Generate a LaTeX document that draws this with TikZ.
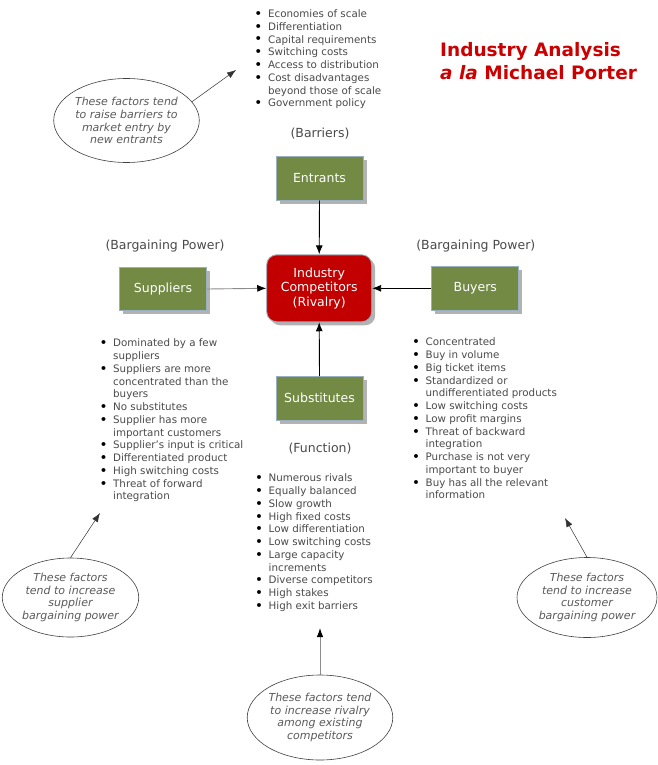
\documentclass[tikz,border=0pt]{standalone}
\usepackage{fontspec}
\setmainfont{DejaVu Sans}
\usetikzlibrary{shapes.geometric,arrows.meta,shadows}
\definecolor{boxgreen}{HTML}{738A45}
\definecolor{boxedge}{HTML}{9AAFC0}
\definecolor{rivred}{HTML}{C20000}
\definecolor{titlered}{HTML}{CC0000}
\definecolor{txtgray}{HTML}{4A4A4A}
\definecolor{notegray}{HTML}{5A5A5A}
\newcommand{\bul}{\makebox[6.1pt][c]{\raisebox{-0.9pt}{\fontsize{13.5}{12}\selectfont\textcolor{black}{\textbullet}}}}
\newcommand{\factlist}[1]{\fontsize{10.3}{12.75}\selectfont\begin{tabular}{@{}l@{\hspace{6.6pt}}l@{}}#1\end{tabular}}
\tikzset{
  forcebox/.style={draw=boxedge, line width=0.9pt, fill=boxgreen, text=white,
    minimum width=87pt, minimum height=43.5pt, inner sep=0pt,
    font=\fontsize{12.5}{14.5}\selectfont,
    drop shadow={shadow xshift=3.5pt, shadow yshift=-3.5pt, fill=black, opacity=0.3}},
  rivalbox/.style={forcebox, fill=rivred, rounded corners=10pt, align=center,
    minimum width=105pt, minimum height=67pt},
  factors/.style={anchor=north west, inner sep=0pt, text=txtgray},
  power/.style={text=txtgray, inner sep=0pt, font=\fontsize{12.5}{15}\selectfont},
  note/.style={ellipse, draw=black!75, line width=0.6pt, inner sep=0pt, align=center,
    text=notegray, font=\fontsize{11}{12.8}\selectfont\itshape},
  mainarrow/.style={line width=0.9pt, -{Latex[length=9pt,width=7pt]}},
  notearrow/.style={draw=black!80, line width=0.5pt, -{Latex[length=9pt,width=6.5pt]}},
  titletext/.style={anchor=base west, inner sep=0pt, text=titlered,
    font=\fontsize{18.5}{22}\selectfont\bfseries}
}
\begin{document}
\begin{tikzpicture}[x=1pt,y=-1pt]
\useasboundingbox (0,0) rectangle (658,765);
\fill[white] (0,0) rectangle (658,765);

% title
\node[titletext] (title1) at (440,56.7) {Industry Analysis};
\node[titletext] (title2) at (440,79.3) {\textit{a la} Michael Porter};

% boxes
\node[forcebox] (entrants) at (319.5,178.3) {Entrants};
\node[forcebox] (suppliers) at (163,289) {Suppliers};
\node[forcebox] (buyers) at (475.3,288.3) {Buyers};
\node[forcebox] (subst) at (319.5,398.3) {Substitutes};
\node[rivalbox] (rivalry) at (319.2,288.3) {Industry\\Competitors\\(Rivalry)};

% labels
\node[power] (barriers) at (320,134) {(Barriers)};
\node[power] (bpleft) at (165,246) {(Bargaining Power)};
\node[power] (bpright) at (475.8,246.5) {(Bargaining Power)};
\node[power] (function) at (320,448.3) {(Function)};

% main arrows
\draw[mainarrow] (entrants.south) -- (rivalry.north);
\draw[mainarrow, draw=black!45, -{Latex[length=9pt,width=7pt,color=black]}] (suppliers.east) -- (rivalry.west);
\draw[mainarrow] (buyers.west) -- (rivalry.east);
\draw[mainarrow] (subst.north) -- (rivalry.south);

% factor lists
\node[factors] (barrierlist) at (255.2,8.4) {\factlist{
\bul & Economies of scale\\
\bul & Differentiation\\
\bul & Capital requirements\\
\bul & Switching costs\\
\bul & Access to distribution\\
\bul & Cost disadvantages\\
 & beyond those of scale\\
\bul & Government policy}};

\node[factors] (supplierlist) at (100.3,337.8) {\factlist{
\bul & Dominated by a few\\
 & suppliers\\
\bul & Suppliers are more\\
 & concentrated than the\\
 & buyers\\
\bul & No substitutes\\
\bul & Supplier has more\\
 & important customers\\
\bul & Supplier's input is critical\\
\bul & Differentiated product\\
\bul & High switching costs\\
\bul & Threat of forward\\
 & integration}};

\node[factors] (buyerlist) at (412.8,336.8) {\factlist{
\bul & Concentrated\\
\bul & Buy in volume\\
\bul & Big ticket items\\
\bul & Standardized or\\
 & undifferentiated products\\
\bul & Low switching costs\\
\bul & Low profit margins\\
\bul & Threat of backward\\
 & integration\\
\bul & Purchase is not very\\
 & important to buyer\\
\bul & Buy has all the relevant\\
 & information}};

\node[factors] (rivallist) at (255.8,472.8) {\factlist{
\bul & Numerous rivals\\
\bul & Equally balanced\\
\bul & Slow growth\\
\bul & High fixed costs\\
\bul & Low differentiation\\
\bul & Low switching costs\\
\bul & Large capacity\\
 & increments\\
\bul & Diverse competitors\\
\bul & High stakes\\
\bul & High exit barriers}};

% notes
\node[note, minimum width=143pt, minimum height=84pt] (noteentry) at (126.5,120.5)
  {These factors tend\\to raise barriers to\\market entry by\\new entrants};
\node[note, minimum width=135pt, minimum height=79pt] (notesupp) at (70.5,597.5)
  {These factors\\tend to increase\\supplier\\bargaining power};
\node[note, minimum width=140pt, minimum height=80pt] (notebuy) at (587,597.5)
  {These factors\\tend to increase\\customer\\bargaining power};
\node[note, minimum width=144pt, minimum height=85pt] (noteriv) at (320,717.5)
  {These factors tend\\to increase rivalry\\among existing\\competitors};

\coordinate (tipentry) at (236,70);
\coordinate (tipsupp) at (100,513);
\coordinate (tipbuy) at (565,518);
\coordinate (tipriv) at (320,628);

\draw[notearrow] (noteentry.16) -- (tipentry);
\draw[notearrow] (notesupp.north) -- (tipsupp);
\draw[notearrow] (notebuy.north) -- (tipbuy);
\draw[notearrow, draw=black!45, line width=0.9pt, -{Latex[length=9pt,width=6.5pt,color=black]}] (noteriv.north) -- (tipriv);
\end{tikzpicture}
\end{document}
